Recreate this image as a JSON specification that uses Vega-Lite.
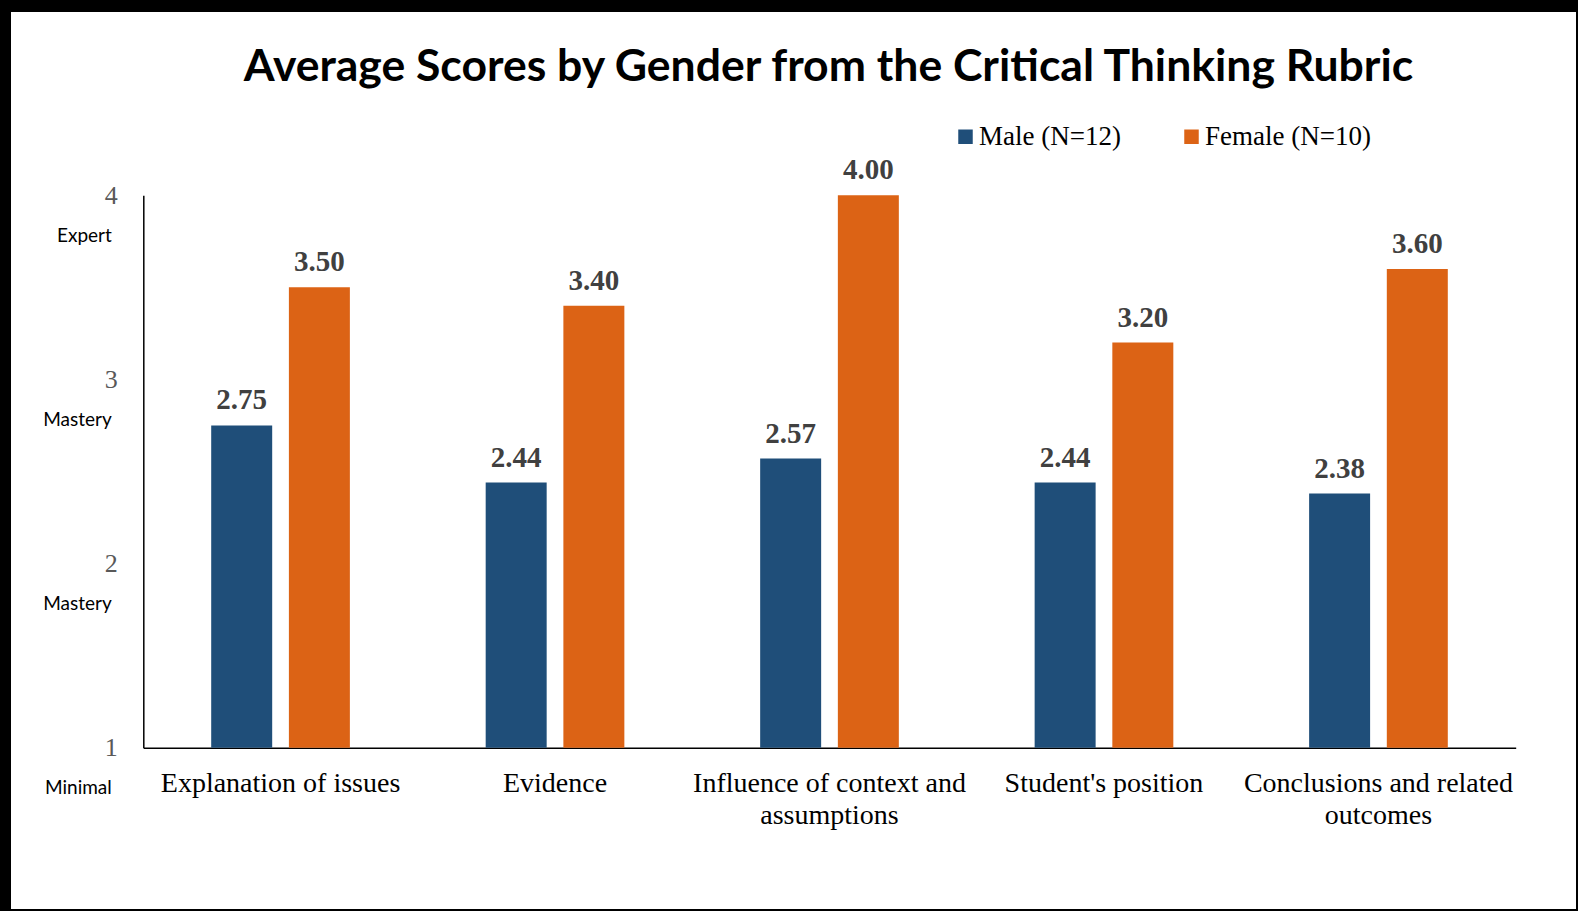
{
  "$schema": "https://vega.github.io/schema/vega-lite/v6.json",
  "width": 1565,
  "height": 897,
  "autosize": {"type": "none"},
  "padding": {"left": 11, "top": 12, "right": 2, "bottom": 2},
  "background": "black",
  "config": {
    "view": {"fill": "white", "stroke": null}
  },
  "title": {
    "text": "Average Scores by Gender from the Critical Thinking Rubric",
    "font": "Lato",
    "fontWeight": "bold",
    "fontSize": 44.5,
    "color": "black",
    "anchor": "middle",
    "frame": "group",
    "dx": 35,
    "offset": -113,
    "baseline": "alphabetic"
  },
  "data": {
    "values": [
      {"criterion": "Explanation of issues", "gender": "Male (N=12)", "score": 2.75},
      {"criterion": "Explanation of issues", "gender": "Female (N=10)", "score": 3.50},
      {"criterion": "Evidence", "gender": "Male (N=12)", "score": 2.44},
      {"criterion": "Evidence", "gender": "Female (N=10)", "score": 3.40},
      {"criterion": "Influence of context and assumptions", "gender": "Male (N=12)", "score": 2.57},
      {"criterion": "Influence of context and assumptions", "gender": "Female (N=10)", "score": 4.00},
      {"criterion": "Student's position", "gender": "Male (N=12)", "score": 2.44},
      {"criterion": "Student's position", "gender": "Female (N=10)", "score": 3.20},
      {"criterion": "Conclusions and related outcomes", "gender": "Male (N=12)", "score": 2.38},
      {"criterion": "Conclusions and related outcomes", "gender": "Female (N=10)", "score": 3.60}
    ]
  },
  "encoding": {
    "x": {
      "field": "criterion",
      "type": "nominal",
      "sort": null,
      "scale": {"range": [132.3, 1504.7], "paddingInner": 0, "paddingOuter": 0},
      "axis": {
        "orient": "bottom",
        "offset": -161.3,
        "title": null,
        "ticks": false,
        "grid": false,
        "domain": true,
        "domainColor": "black",
        "domainWidth": 1.5,
        "labelAngle": 0,
        "labelFont": "Liberation Serif",
        "labelFontSize": 28,
        "labelColor": "black",
        "labelPadding": 22,
        "labelBaseline": "top",
        "labelLineHeight": 32,
        "labelLimit": 400,
        "labelExpr": "datum.value == 'Influence of context and assumptions' ? ['Influence of context and', 'assumptions'] : datum.value == 'Conclusions and related outcomes' ? ['Conclusions and related', 'outcomes'] : datum.value"
      }
    },
    "xOffset": {
      "field": "gender",
      "type": "nominal",
      "sort": null,
      "scale": {"paddingInner": 0.215, "paddingOuter": 0.874}
    }
  },
  "layer": [
    {
      "mark": {"type": "bar"},
      "encoding": {
        "y": {
          "field": "score",
          "type": "quantitative",
          "scale": {"domain": [1, 4], "range": [735.7, 183.3], "nice": false, "zero": false},
          "axis": {
            "orient": "left",
            "offset": -132.3,
            "values": [1, 2, 3, 4],
            "format": "d",
            "title": null,
            "grid": false,
            "ticks": false,
            "tickSize": 0,
            "domain": true,
            "domainColor": "black",
            "domainWidth": 1.5,
            "labelFont": "Liberation Serif",
            "labelFontSize": 26,
            "labelColor": "#595959",
            "labelPadding": 26,
            "labelAlign": "right",
            "labelBaseline": "middle"
          }
        },
        "y2": {"datum": 1},
        "color": {
          "field": "gender",
          "type": "nominal",
          "scale": {"domain": ["Male (N=12)", "Female (N=10)"], "range": ["#1F4E79", "#DC6315"]},
          "legend": {
            "title": null,
            "orient": "none",
            "legendX": 941,
            "legendY": 111,
            "direction": "horizontal",
            "columns": 2,
            "padding": 0,
            "symbolType": "square",
            "symbolSize": 210,
            "symbolStrokeWidth": 0,
            "labelFont": "Liberation Serif",
            "labelFontSize": 27,
            "labelColor": "black",
            "labelLimit": 400,
            "labelOffset": 0,
            "columnPadding": 57
          }
        }
      }
    },
    {
      "mark": {
        "type": "text",
        "baseline": "alphabetic",
        "dy": -16,
        "font": "Liberation Serif",
        "fontWeight": "bold",
        "fontSize": 29,
        "color": "#404040"
      },
      "encoding": {
        "y": {
          "field": "score",
          "type": "quantitative",
          "scale": {"domain": [1, 4], "range": [735.7, 183.3], "nice": false, "zero": false},
          "axis": {
            "orient": "left",
            "offset": -132.3,
            "values": [1, 2, 3, 4],
            "title": null,
            "grid": false,
            "ticks": false,
            "tickSize": 0,
            "domain": false,
            "labelExpr": "datum.value == 4 ? 'Expert' : datum.value == 1 ? 'Minimal' : 'Mastery'",
            "labelFont": "Lato",
            "labelFontSize": 19,
            "labelColor": "black",
            "labelPadding": 32,
            "labelAlign": "right",
            "labelBaseline": "middle",
            "labelOffset": 40
          }
        },
        "text": {"field": "score", "type": "quantitative", "format": ".2f"}
      }
    }
  ],
  "resolve": {"axis": {"y": "independent"}}
}
